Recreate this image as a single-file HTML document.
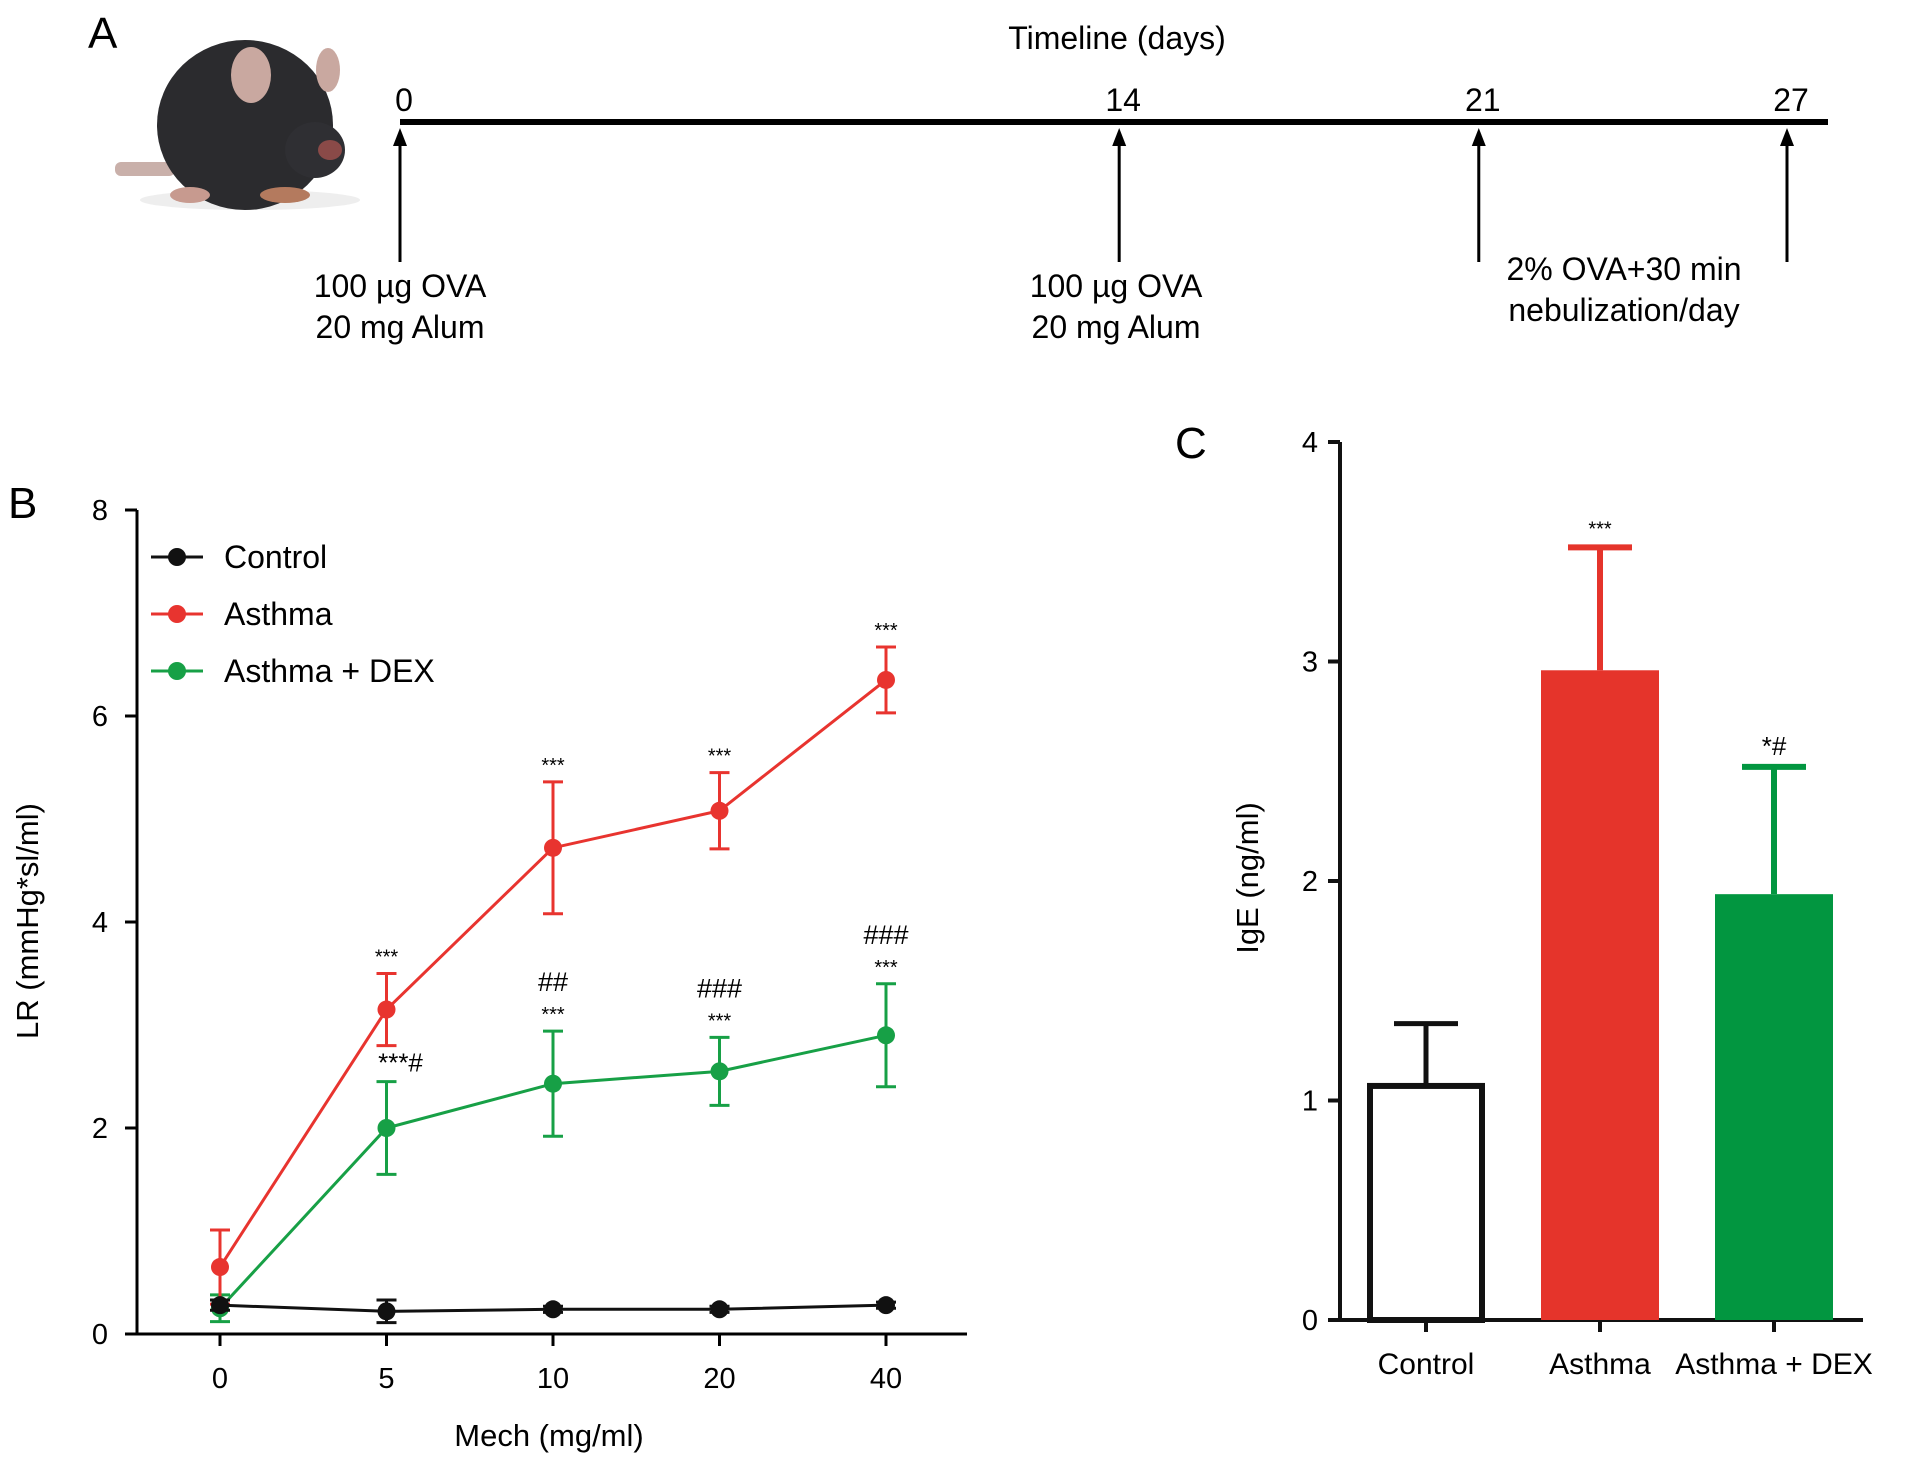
<!DOCTYPE html>
<html><head><meta charset="utf-8"><style>
html,body{margin:0;padding:0;background:#fff;}
svg{display:block;font-family:"Liberation Sans",Arial,sans-serif;}
</style></head><body>
<svg id="fig" width="1913" height="1468" viewBox="0 0 1913 1468">
<!-- Panel A -->
<g>
<text x="88" y="48" font-size="44">A</text>
<g>
<ellipse cx="250" cy="200" rx="110" ry="10" fill="#eee"/>
<rect x="115" y="162" width="60" height="14" rx="6" fill="#c9b0aa"/>
<ellipse cx="245" cy="125" rx="88" ry="85" fill="#2b2b2e"/>
<ellipse cx="315" cy="150" rx="30" ry="28" fill="#2f2f33"/>
<ellipse cx="330" cy="150" rx="12" ry="10" fill="#8a4a48"/>
<ellipse cx="251" cy="75" rx="20" ry="28" fill="#c9a8a0"/>
<ellipse cx="328" cy="70" rx="12" ry="22" fill="#c9a8a0"/>
<ellipse cx="190" cy="195" rx="20" ry="8" fill="#c79a8f"/>
<ellipse cx="285" cy="195" rx="25" ry="8" fill="#b47a5e"/>
</g>
<text x="1117" y="49" font-size="32" text-anchor="middle">Timeline (days)</text>
<line x1="400" y1="122" x2="1828" y2="122" stroke="#000" stroke-width="6"/>
<g id="tl" font-size="32" text-anchor="middle"></g>
<text x="400" y="297" font-size="32" text-anchor="middle"><tspan x="400">100 µg OVA</tspan><tspan x="400" dy="41">20 mg Alum</tspan></text>
<text x="1116" y="297" font-size="32" text-anchor="middle"><tspan x="1116">100 µg OVA</tspan><tspan x="1116" dy="41">20 mg Alum</tspan></text>
<text x="1624" y="280" font-size="32" text-anchor="middle"><tspan x="1624">2% OVA+30 min</tspan><tspan x="1624" dy="41">nebulization/day</tspan></text>
</g>
<!-- Panel B -->
<g id="pb">
<text x="8" y="518" font-size="44">B</text>
<text transform="translate(38,921) rotate(-90)" font-size="31" text-anchor="middle">LR (mmHg*sl/ml)</text>
<text x="549" y="1446" font-size="31" text-anchor="middle">Mech (mg/ml)</text>
</g>
<!-- Panel C -->
<g id="pc">
<text x="1175" y="458" font-size="44">C</text>
<text transform="translate(1258,878) rotate(-90)" font-size="31" text-anchor="middle">IgE (ng/ml)</text>
</g>
</svg>
<script>
const NS="http://www.w3.org/2000/svg";
function mk(parent,tag,attrs,text){const e=document.createElementNS(NS,tag);for(const k in attrs)e.setAttribute(k,attrs[k]);if(text!==undefined)e.textContent=text;parent.appendChild(e);return e;}

// Timeline data
const tlDays=[0,14,21,27];
const tlLabels=["0","14","21","27"];
const tlArrowStart=[262,262,262,262];
const tl=document.getElementById('tl');
const tlX=d=>400+(d/27)*(1787-400);
tlDays.forEach((d,i)=>{
  const x=tlX(d);
  const t=mk(tl,'text',{x:x+4,y:111},tlLabels[i]);
  
  
  const l=mk(tl,'line',{x1:x,y1:tlArrowStart[i],x2:x,y2:136,stroke:'#000','stroke-width':3});
  
  
  const p=mk(tl,'polygon',{points:`${x-7},${146} ${x+7},${146} ${x},${128}`,fill:'#000'});
  
  
});

// Panel B data
const bCategories=["0","5","10","20","40"];
const bYTicks=[0,2,4,6,8];
const controlMean=[0.28,0.22,0.24,0.24,0.28];
const controlErr=[0.05,0.11,0.03,0.03,0.03];
const asthmaMean=[0.65,3.15,4.72,5.08,6.35];
const asthmaErr=[0.36,0.35,0.64,0.37,0.32];
const dexMean=[0.25,2.0,2.43,2.55,2.9];
const dexErr=[0.13,0.45,0.51,0.33,0.5];
const asthmaSig=["","***","***","***","***"];
const dexSig=["","***#","***","***","***"];
const dexSig2=["","","##","###","###"];

const pb=document.getElementById('pb');
const bx=i=>220+i*166.5;
const by=v=>1334-v*103;
let ax=mk(pb,'line',{x1:137,y1:by(8),x2:137,y2:by(0)+1.5,stroke:'#000','stroke-width':3});

ax=mk(pb,'line',{x1:135.5,y1:by(0),x2:967,y2:by(0),stroke:'#000','stroke-width':3});

bYTicks.forEach(v=>{
  const l=mk(pb,'line',{x1:125,y1:by(v),x2:137,y2:by(v),stroke:'#000','stroke-width':3});
  
  const t=mk(pb,'text',{x:108,y:by(v)+10,'font-size':29,'text-anchor':'end'},String(v));
  
});
bCategories.forEach((c,i)=>{
  const l=mk(pb,'line',{x1:bx(i),y1:by(0),x2:bx(i),y2:by(0)+12,stroke:'#000','stroke-width':3});
  
  const t=mk(pb,'text',{x:bx(i),y:1388,'font-size':29,'text-anchor':'middle'},c);
  
});
function series(mean,err,color,name){
  const g=mk(pb,'g',{});
  
  const pl=mk(g,'polyline',{points:mean.map((v,i)=>bx(i)+','+by(v)).join(' '),fill:'none',stroke:color,'stroke-width':3});
  
  mean.forEach((v,i)=>{
    const e=mk(g,'path',{d:`M${bx(i)},${by(v-err[i])}V${by(v+err[i])}M${bx(i)-10},${by(v-err[i])}h20M${bx(i)-10},${by(v+err[i])}h20`,stroke:color,'stroke-width':3,fill:'none'});
    
    const c=mk(g,'circle',{cx:bx(i),cy:by(v),r:9,fill:color});
    
  });
}
series(dexMean,dexErr,'#17a046','dex');
series(asthmaMean,asthmaErr,'#e8342f','asthma');
series(controlMean,controlErr,'#111','control');
asthmaMean.forEach((v,i)=>{ if(!asthmaSig[i])return;
  const t=mk(pb,'text',{x:bx(i),y:by(v+asthmaErr[i])-10,'font-size':20,'text-anchor':'middle'},asthmaSig[i]);
  
});
dexMean.forEach((v,i)=>{ if(!dexSig[i])return;
  const hasHash=dexSig[i].includes('#');
  const t=mk(pb,'text',{x:bx(i)+(hasHash?14:0),y:by(v+dexErr[i])-10,'font-size':hasHash?26:20,'text-anchor':'middle'},dexSig[i]);
  
  if(dexSig2[i]){
    const t2=mk(pb,'text',{x:bx(i),y:by(v+dexErr[i])-40,'font-size':27,'text-anchor':'middle'},dexSig2[i]);
    
  }
});
const legendNames=["Control","Asthma","Asthma + DEX"];
const legendColors=['#111','#e8342f','#17a046'];
legendNames.forEach((n,i)=>{
  const y=557+i*57;
  const g=mk(pb,'g',{});
  
  mk(g,'line',{x1:151,y1:y,x2:203,y2:y,stroke:legendColors[i],'stroke-width':3});
  mk(g,'circle',{cx:177,cy:y,r:9,fill:legendColors[i]});
  mk(g,'text',{x:224,y:y+11,'font-size':32},n);
});

// Panel C data
const cCategories=["Control","Asthma","Asthma + DEX"];
const cMeans=[1.08,2.96,1.94];
const cErrUpper=[0.27,0.56,0.58];
const cYTicks=[0,1,2,3,4];
const cSig=["","***","*#"];
const cFill=['#fff','#e5342b','#029640'];
const cStroke=['#111','#e5342b','#029640'];
const pc=document.getElementById('pc');
const cx=i=>1426+i*174;
const cy=v=>1320-v*219.5;
ax=mk(pc,'line',{x1:1340,y1:cy(4),x2:1340,y2:cy(0)+1.5,stroke:'#111','stroke-width':4});

ax=mk(pc,'line',{x1:1338,y1:cy(0),x2:1863,y2:cy(0),stroke:'#111','stroke-width':4});

cYTicks.forEach(v=>{
  const l=mk(pc,'line',{x1:1328,y1:cy(v),x2:1340,y2:cy(v),stroke:'#111','stroke-width':4});
  
  const t=mk(pc,'text',{x:1318,y:cy(v)+10,'font-size':29,'text-anchor':'end'},String(v));
  
});
cCategories.forEach((c,i)=>{
  const x=cx(i), v=cMeans[i], top=v+cErrUpper[i];
  const e=mk(pc,'path',{d:`M${x},${cy(v)}V${cy(top)}M${x-32},${cy(top)}h64`,stroke:cStroke[i],'stroke-width':i===0?5:6,fill:'none'});
  
  const inset=i===0?3:0;
  const r=mk(pc,'rect',{x:x-59+inset,y:cy(v)+inset,width:118-2*inset,height:cy(0)-cy(v)-inset,fill:cFill[i],stroke:i===0?'#111':'none','stroke-width':6});
  
  const tk=mk(pc,'line',{x1:x,y1:cy(0),x2:x,y2:cy(0)+12,stroke:'#111','stroke-width':4});
  
  const t=mk(pc,'text',{x:x,y:1374,'font-size':30,'text-anchor':'middle'},c);
  
  if(cSig[i]){
    const s=mk(pc,'text',{x:x,y:cy(top)-12,'font-size':cSig[i].includes('#')?26:20,'text-anchor':'middle'},cSig[i]);
    
  }
});
</script>
</body></html>
